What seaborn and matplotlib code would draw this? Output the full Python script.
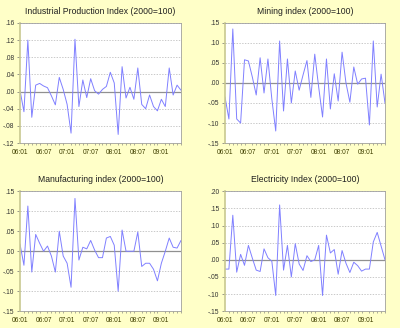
import matplotlib
matplotlib.use("Agg")
import matplotlib.pyplot as plt
import seaborn as sns
import pandas as pd
import numpy as np

# ---- data (monthly growth, 2006:01 .. 2009:06) ----
months = list(range(42))
xtick_pos = [0, 6, 12, 18, 24, 30, 36]
xtick_labels = ["06:01", "06:07", "07:01", "07:07", "08:01", "08:07", "09:01"]

industrial = [0.003, -0.047, 0.120, -0.060, 0.015, 0.019, 0.013, 0.009, -0.010, -0.031,
              0.033, 0.005, -0.030, -0.097, 0.122, -0.035, 0.027, -0.014, 0.030, 0.002,
              -0.006, 0.005, 0.012, 0.045, 0.020, -0.100, 0.058, -0.015, 0.010, -0.018,
              0.055, -0.030, -0.040, -0.008, -0.035, -0.045, -0.018, -0.035, 0.055, -0.008,
              0.015, 0.003]
mining = [-0.035, -0.090, 0.135, -0.090, -0.100, 0.058, 0.055, 0.015, -0.030, 0.063,
          -0.025, 0.060, -0.040, -0.120, 0.105, -0.070, 0.060, -0.050, 0.030, -0.018,
          0.020, 0.056, -0.036, 0.072, -0.010, -0.085, 0.060, -0.065, 0.023, -0.045,
          0.077, 0.000, -0.048, 0.040, -0.003, 0.010, 0.012, -0.105, 0.105, -0.060,
          0.022, -0.050]
manufacturing = [0.018, -0.035, 0.113, -0.052, 0.042, 0.020, 0.000, 0.013, -0.012, -0.052,
                 0.050, -0.012, -0.030, -0.090, 0.132, -0.022, 0.010, 0.006, 0.027, 0.003,
                 -0.016, -0.016, 0.033, 0.037, 0.015, -0.100, 0.053, 0.000, 0.000, 0.000,
                 0.048, -0.038, -0.030, -0.030, -0.045, -0.074, -0.030, 0.000, 0.033, 0.010,
                 0.008, 0.027]
electricity = [-0.027, -0.027, 0.130, -0.036, 0.016, -0.016, 0.042, 0.005, -0.030, -0.034,
               0.032, 0.006, -0.004, -0.104, 0.160, -0.030, 0.042, -0.050, 0.047, -0.012,
               -0.031, 0.012, -0.005, 0.000, 0.042, -0.104, 0.072, 0.020, 0.030, -0.042,
               0.027, -0.010, -0.037, -0.007, -0.017, -0.033, -0.027, -0.027, 0.052, 0.080,
               0.040, 0.000]

titles = ["Industrial Production Index (2000=100)", "Mining index (2000=100)",
          "Manufacturing index (2000=100)", "Electricity Index (2000=100)"]
series = [industrial, mining, manufacturing, electricity]
yticks = [[-0.12, -0.08, -0.04, 0.0, 0.04, 0.08, 0.12, 0.16],
          [-0.15, -0.10, -0.05, 0.0, 0.05, 0.10, 0.15],
          [-0.15, -0.10, -0.05, 0.0, 0.05, 0.10, 0.15],
          [-0.15, -0.10, -0.05, 0.0, 0.05, 0.10, 0.15, 0.20]]

sns.set_style("white")
plt.rcParams['font.family'] = ['Liberation Sans', 'DejaVu Sans']

fig = plt.figure(figsize=(4.0, 3.28), dpi=100, facecolor="#FFFFC8")
positions = [[0.05, 0.564, 0.4025, 0.366],
             [0.5625, 0.564, 0.40, 0.366],
             [0.05, 0.051, 0.4025, 0.366],
             [0.5625, 0.051, 0.40, 0.366]]

def fmt(v):
    s = f"{v:.2f}"
    return s.replace("0.", ".", 1)

for pos, title, vals, yt in zip(positions, titles, series, yticks):
    ax = fig.add_axes(pos)
    ax.set_facecolor("white")
    df = pd.DataFrame({"month": months, "value": vals})
    for y in yt:
        if y != 0:
            ax.axhline(y, color="#b4b4b4", lw=0.5, ls=(0, (2, 2)), zorder=0)
    ax.axhline(0, color="#909090", lw=0.9, zorder=1)
    sns.lineplot(data=df, x="month", y="value", ax=ax, color="#8080ff", lw=0.7, zorder=2)
    ax.set_xlim(months[0], months[-1])
    ax.set_ylim(yt[0], yt[-1])
    ax.set_yticks(yt)
    ax.set_yticklabels([fmt(v) for v in yt], fontsize=4.8, color="#303030")
    ax.set_xticks(xtick_pos)
    ax.set_xticklabels(xtick_labels, fontsize=4.8, color="#404000")
    ax.set_xticks(months, minor=True)
    ax.tick_params(axis="both", which="major", length=2.5, width=0.5, color="#707070", pad=1.5)
    ax.tick_params(axis="x", which="minor", length=1.5, width=0.4, color="#707070", bottom=True)
    ax.tick_params(axis="y", left=True)
    ax.set_xlabel("")
    ax.set_ylabel("")
    ax.set_title(title, fontsize=6.2, color="#202020", pad=6.5)
    for s in ax.spines.values():
        s.set_color("#a0a0a0")
        s.set_linewidth(0.6)
        s.set_visible(True)
    ax.spines["left"].set_color("#c8c890")
    ax.spines["left"].set_linewidth(1.2)

fig.savefig("out.png", dpi=100, facecolor=fig.get_facecolor())
